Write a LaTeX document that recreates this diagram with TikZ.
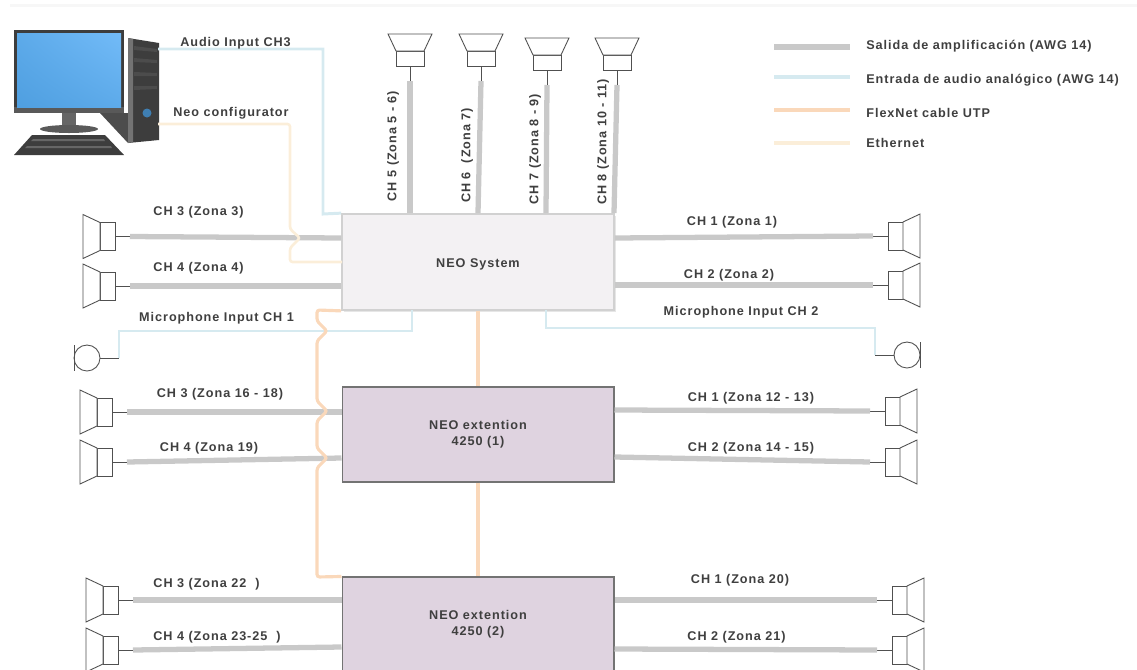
\documentclass[tikz,border=0pt]{standalone}
\usepackage{fontspec}
\setmainfont[LetterSpace=7.5]{Liberation Sans}
\usetikzlibrary{positioning, shadows, shadings, calc}

\definecolor{ampgray}{HTML}{C9C9C9}
\definecolor{audioblue}{HTML}{D6EAF0}
\definecolor{flexorange}{HTML}{FAD8BA}
\definecolor{etherbeige}{HTML}{FBEED9}
\definecolor{sysfill}{HTML}{F3F1F3}
\definecolor{extfill}{HTML}{DFD3E0}
\definecolor{textgray}{HTML}{3F3F3F}
\definecolor{spkgray}{HTML}{505050}
\definecolor{pcdark}{HTML}{3D3D3D}
\definecolor{screenblue}{HTML}{4F9FE0}
\definecolor{screenlight}{HTML}{72BBF8}

\tikzset{
speaker/.pic={
  \draw[spkgray, line width=0.5pt, fill=white] (0,0) -- (-15,0);
  \draw[spkgray, line width=0.5pt, fill=white] (-15,-14) rectangle (-30,14);
  \draw[spkgray, line width=0.5pt, fill=white] (-30,-14) -- (-47,-22) -- (-47,22) -- (-30,14) -- cycle;
},
micro/.pic={
  \draw[spkgray, line width=0.5pt] (0,0) -- (-19,0);
  \draw[spkgray, line width=0.5pt] (-32,0) circle (13);
  \draw[spkgray, line width=0.5pt] (-45,-13) -- (-45,13);
},
}

\begin{document}
\begin{tikzpicture}[
x=0.02cm, y=-0.02cm,
sysnode/.style={rectangle, draw=black!18, line width=1pt, fill=sysfill, minimum width=5.44cm, minimum height=1.92cm, inner sep=0pt, align=center, text=textgray, font=\bfseries\fontsize{7.2}{9}\selectfont, execute at begin node=\rule{0pt}{7.4pt}, drop shadow={opacity=0.2, shadow xshift=1pt, shadow yshift=-1pt}},
extnode/.style={rectangle, draw=black!55, line width=0.6pt, fill=extfill, minimum width=5.44cm, minimum height=1.9cm, inner sep=0pt, align=center, text=textgray, font=\bfseries\fontsize{7.2}{9}\selectfont, execute at begin node=\rule{0pt}{7.4pt}},
tag/.style={text=textgray, font=\bfseries\fontsize{7.2}{8}\selectfont, inner sep=0pt, yshift=-1pt},
vtag/.style={text=textgray, font=\bfseries\fontsize{7.2}{8}\selectfont, inner sep=0pt, rotate=90, xshift=0.6pt},
ampline/.style={ampgray, line width=3pt},
audioline/.style={audioblue, line width=1.7pt},
flexline/.style={flexorange, line width=1.8pt, rounded corners=1.5pt},
etherline/.style={etherbeige, line width=1.5pt, rounded corners=1.5pt},
]

\useasboundingbox (0,0) rectangle (1137,670);
\fill[black!3] (10,4) rectangle (1137,7);

\node[sysnode]      (neosystem)    at (478,262)  {NEO System};
\node[extnode]      (neoextone)    at (478,434.5) {NEO extention\\4250 (1)};
\node[extnode]      (neoexttwo)    at (478,624.5) {NEO extention\\4250 (2)};

%Computer
\fill[black!70] (100,113) -- (128,113) -- (128,143) -- cycle;
\fill[pcdark] (128,38) -- (159,43) -- (159,140) -- (128,143) -- cycle;
\fill[black!55] (128,38) -- (133,39) -- (133,142) -- (128,143) -- cycle;
\fill[black!70] (134,46) -- (157,49) -- (157,52) -- (134,50) -- cycle;
\fill[black!70] (134,58) -- (157,60) -- (157,63) -- (134,62) -- cycle;
\fill[black!70] (134,72) -- (157,73) -- (157,76) -- (134,76) -- cycle;
\fill[black!70] (134,86) -- (157,86) -- (157,89) -- (134,90) -- cycle;
\fill[screenblue!80!black] (147,113) circle (4.5);
\fill[pcdark] (14,30) rectangle (124,113);
\fill[black!65] (14,107) rectangle (124,113);
\fill[black!60] (62,113) rectangle (76,126);
\fill[pcdark!85] (69,129) ellipse (29 and 4);
\fill[pcdark] (14,155) -- (32,135) -- (105,135) -- (124,155) -- cycle;
\fill[black!60] (33,139) -- (104,139) -- (105,141) -- (31,141) -- cycle;
\fill[black!60] (27,146) -- (111,146) -- (112,148) -- (25,148) -- cycle;
\shade[lower left=screenblue, upper right=screenlight, upper left=screenblue!60!screenlight, lower right=screenblue!60!screenlight] (17,33) rectangle (121,107);
\coordinate (pcaudio) at (158,49);
\coordinate (pcether) at (158,124);

%Speakers
\foreach \spk/\x/\y/\rot in {
  zonaiii/130/236.5/0, zonaiv/130/286/0,
  zonaxvi/127/412/0, zonaxix/127/462/0,
  zonaxxii/133/600/0, zonaxxiii/133/650/0,
  zonai/873/236/180, zonaii/873/285/180,
  zonaxii/870/411/180, zonaxiv/870/462/180,
  zonaxx/877/600/180, zonaxxi/877/650/180,
  zonav/410/81/-90, zonavii/481/81/-90,
  zonaviii/547/85/-90, zonax/617/85/-90}
{
  \coordinate (\spk) at (\x,\y);
  \pic[rotate=\rot] at (\spk) {speaker};
}
\coordinate (micone) at (119,358);
\coordinate (mictwo) at (875,355);
\pic at (micone) {micro};
\pic[rotate=180] at (mictwo) {micro};

%Lines
\draw[ampline] (zonaiii) -- ($(zonaiii -| neosystem.west)+(0,1.5)$);
\draw[ampline] (zonaiv) -- (zonaiv -| neosystem.west);
\draw[ampline] (zonai) -- ($(zonai -| neosystem.east)+(0,2)$);
\draw[ampline] (zonaii) -- (zonaii -| neosystem.east);
\draw[ampline] (zonaxvi) -- (zonaxvi -| neoextone.west);
\draw[ampline] (zonaxix) -- ($(zonaxix -| neoextone.west)+(0,-4)$);
\draw[ampline] (zonaxii) -- ($(zonaxii -| neoextone.east)+(0,-1)$);
\draw[ampline] (zonaxiv) -- ($(zonaxiv -| neoextone.east)+(0,-5)$);
\draw[ampline] (zonaxxii) -- (zonaxxii -| neoexttwo.west);
\draw[ampline] (zonaxxiii) -- ($(zonaxxiii -| neoexttwo.west)+(0,-3)$);
\draw[ampline] (zonaxx) -- (zonaxx -| neoexttwo.east);
\draw[ampline] (zonaxxi) -- ($(zonaxxi -| neoexttwo.east)+(0,-1)$);
\draw[ampline] (zonav) -- (zonav |- neosystem.north);
\draw[ampline] (zonavii) -- ($(zonavii |- neosystem.north)+(-3,0)$);
\draw[ampline] (zonaviii) -- ($(zonaviii |- neosystem.north)+(-1,0)$);
\draw[ampline] (zonax) -- ($(zonax |- neosystem.north)+(-3,0)$);

\coordinate (etherin) at (342,262);
\draw[audioline] (pcaudio) -- (323,49) -- (323,214) -- (neosystem.north west);
\draw[audioline] (micone) -- (119,331) -- (412,331) -- (412,310);
\draw[audioline] (mictwo) -- (875,328) -- (546,328) -- (546,310);
\draw[etherline] (pcether) -- (290,124) -- (290,229) -- (300,238) -- (290,248) -- (290,262) -- (etherin);
\draw[flexline] (neosystem.south west) -- (317,310) -- (317,321) -- (327,331) -- (317,341) -- (317,401) -- (327,411) -- (317,421) -- (317,448) -- (327,458) -- (317,468) -- (317,577) -- (neoexttwo.north west);
\draw[flexorange, line width=2.8pt] (neosystem.south) -- (neoextone.north);
\draw[flexorange, line width=2.8pt] (neoextone.south) -- (neoexttwo.north);

%Labels
\node[tag] (tagaudio) at (235.5,41)  {Audio Input CH3};
\node[tag] (tagneo)   at (231,111)   {Neo configurator};
\node[tag] (tagiii)   at (198.5,210) {CH 3 (Zona 3)};
\node[tag] (tagiv)    at (198.5,266) {CH 4 (Zona 4)};
\node[tag] (tagmicone) at (216.5,316) {Microphone Input CH 1};
\node[tag] (tagxvi)   at (220,392)   {CH 3 (Zona 16 - 18)};
\node[tag] (tagxix)   at (209,446)   {CH 4 (Zona 19)};
\node[tag] (tagxxii)  at (206.5,582) {CH 3 (Zona 22~~)};
\node[tag] (tagxxiii) at (217,635)   {CH 4 (Zona 23-25~~)};
\node[tag] (tagi)     at (732,220)   {CH 1 (Zona 1)};
\node[tag] (tagii)    at (729,273)   {CH 2 (Zona 2)};
\node[tag] (tagmictwo) at (741,310)  {Microphone Input CH 2};
\node[tag] (tagxii)   at (751,396)   {CH 1 (Zona 12 - 13)};
\node[tag] (tagxiv)   at (751,446)   {CH 2 (Zona 14 - 15)};
\node[tag] (tagxx)    at (740,578)   {CH 1 (Zona 20)};
\node[tag] (tagxxi)   at (736.5,635) {CH 2 (Zona 21)};
\node[vtag] (tagv)    at (393,147)   {CH 5 (Zona 5 - 6)};
\node[vtag] (tagvii)  at (467,156.5) {CH 6~~(Zona 7)};
\node[vtag] (tagviii) at (535,150)   {CH 7 (Zona 8 - 9)};
\node[vtag] (tagx)    at (603,143)   {CH 8 (Zona 10 - 11)};

%Legend
\node[tag, anchor=west] (legamp)   at (866,44)  {Salida de amplificación (AWG 14)};
\node[tag, anchor=west] (legaudio) at (866,78)  {Entrada de audio analógico (AWG 14)};
\node[tag, anchor=west] (legflex)  at (866,111) {FlexNet cable UTP};
\node[tag, anchor=west] (legether) at (866,141) {Ethernet};
\draw[ampline] (774,47) -- (850,47);
\draw[audioline, line width=2.6pt] (774,77) -- (850,77);
\draw[flexline, line width=2.6pt] (774,110) -- (850,110);
\draw[etherline, line width=2.6pt] (774,143) -- (850,143);
\end{tikzpicture}
\end{document}
